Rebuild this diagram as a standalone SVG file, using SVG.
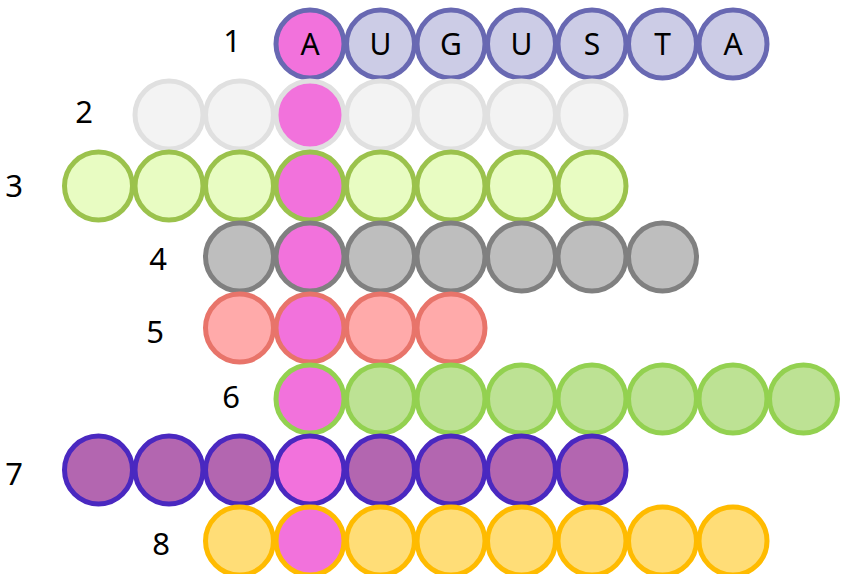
<svg xmlns="http://www.w3.org/2000/svg" width="841" height="574" viewBox="0 0 841 574">
<style>
  circle { stroke-width: 5; }
  .lbl { font-family: "Noto Sans", "DejaVu Sans", sans-serif; font-size: 31px; fill: #000; text-anchor: middle; }
  .ch { font-family: "Noto Sans", "DejaVu Sans", sans-serif; font-size: 30px; fill: #000; text-anchor: middle; }
  .r1 circle { fill: #cccce6; stroke: #6868b2; }
  .r2 circle { fill: #f3f3f3; stroke: #e0e0e0; }
  .r3 circle { fill: #e8fcc2; stroke: #9bc24c; }
  .r4 circle { fill: #bebebe; stroke: #808080; }
  .r5 circle { fill: #ffaaaa; stroke: #e8746a; }
  .r6 circle { fill: #bde294; stroke: #93d150; }
  .r7 circle { fill: #b366b0; stroke: #4a28c0; }
  .r8 circle { fill: #ffdd77; stroke: #ffbb00; }
  circle.hl { fill: #f272dc; }
</style>
<g id="row1" class="r1">
  <text class="lbl" x="232" y="52">1</text>
  <circle cx="310" cy="44" r="34" class="hl"/>
  <circle cx="380.5" cy="44" r="34"/>
  <circle cx="451" cy="44" r="34"/>
  <circle cx="521.5" cy="44" r="34"/>
  <circle cx="592" cy="44" r="34"/>
  <circle cx="662.5" cy="44" r="34"/>
  <circle cx="733" cy="44" r="34"/>
  <text class="ch" x="310" y="55">A</text>
  <text class="ch" x="380.5" y="55">U</text>
  <text class="ch" x="451" y="55">G</text>
  <text class="ch" x="521.5" y="55">U</text>
  <text class="ch" x="592" y="55">S</text>
  <text class="ch" x="662.5" y="55">T</text>
  <text class="ch" x="733" y="55">A</text>
</g>
<g id="row2" class="r2">
  <text class="lbl" x="84" y="123">2</text>
  <circle cx="169" cy="115" r="34"/>
  <circle cx="239.5" cy="115" r="34"/>
  <circle cx="380.5" cy="115" r="34"/>
  <circle cx="451" cy="115" r="34"/>
  <circle cx="521.5" cy="115" r="34"/>
  <circle cx="592" cy="115" r="34"/>
  <circle cx="310" cy="115" r="34" class="hl"/>
</g>
<g id="row3" class="r3">
  <text class="lbl" x="14" y="197">3</text>
  <circle cx="98.5" cy="186" r="34"/>
  <circle cx="169" cy="186" r="34"/>
  <circle cx="239.5" cy="186" r="34"/>
  <circle cx="310" cy="186" r="34" class="hl"/>
  <circle cx="380.5" cy="186" r="34"/>
  <circle cx="451" cy="186" r="34"/>
  <circle cx="521.5" cy="186" r="34"/>
  <circle cx="592" cy="186" r="34"/>
</g>
<g id="row4" class="r4">
  <text class="lbl" x="158" y="270">4</text>
  <circle cx="239.5" cy="257" r="34"/>
  <circle cx="310" cy="257" r="34" class="hl"/>
  <circle cx="380.5" cy="257" r="34"/>
  <circle cx="451" cy="257" r="34"/>
  <circle cx="521.5" cy="257" r="34"/>
  <circle cx="592" cy="257" r="34"/>
  <circle cx="662.5" cy="257" r="34"/>
</g>
<g id="row5" class="r5">
  <text class="lbl" x="155" y="343">5</text>
  <circle cx="239.5" cy="328" r="34"/>
  <circle cx="310" cy="328" r="34" class="hl"/>
  <circle cx="380.5" cy="328" r="34"/>
  <circle cx="451" cy="328" r="34"/>
</g>
<g id="row6" class="r6">
  <text class="lbl" x="231" y="408">6</text>
  <circle cx="310" cy="399" r="34" class="hl"/>
  <circle cx="380.5" cy="399" r="34"/>
  <circle cx="451" cy="399" r="34"/>
  <circle cx="521.5" cy="399" r="34"/>
  <circle cx="592" cy="399" r="34"/>
  <circle cx="662.5" cy="399" r="34"/>
  <circle cx="733" cy="399" r="34"/>
  <circle cx="803.5" cy="399" r="34"/>
</g>
<g id="row7" class="r7">
  <text class="lbl" x="14" y="485">7</text>
  <circle cx="98.5" cy="470" r="34"/>
  <circle cx="169" cy="470" r="34"/>
  <circle cx="239.5" cy="470" r="34"/>
  <circle cx="310" cy="470" r="34" class="hl"/>
  <circle cx="380.5" cy="470" r="34"/>
  <circle cx="451" cy="470" r="34"/>
  <circle cx="521.5" cy="470" r="34"/>
  <circle cx="592" cy="470" r="34"/>
</g>
<g id="row8" class="r8">
  <text class="lbl" x="161" y="555">8</text>
  <circle cx="239.5" cy="541" r="34"/>
  <circle cx="310" cy="541" r="34" class="hl"/>
  <circle cx="380.5" cy="541" r="34"/>
  <circle cx="451" cy="541" r="34"/>
  <circle cx="521.5" cy="541" r="34"/>
  <circle cx="592" cy="541" r="34"/>
  <circle cx="662.5" cy="541" r="34"/>
  <circle cx="733" cy="541" r="34"/>
</g>
<g id="connectors"></g>
</svg>
